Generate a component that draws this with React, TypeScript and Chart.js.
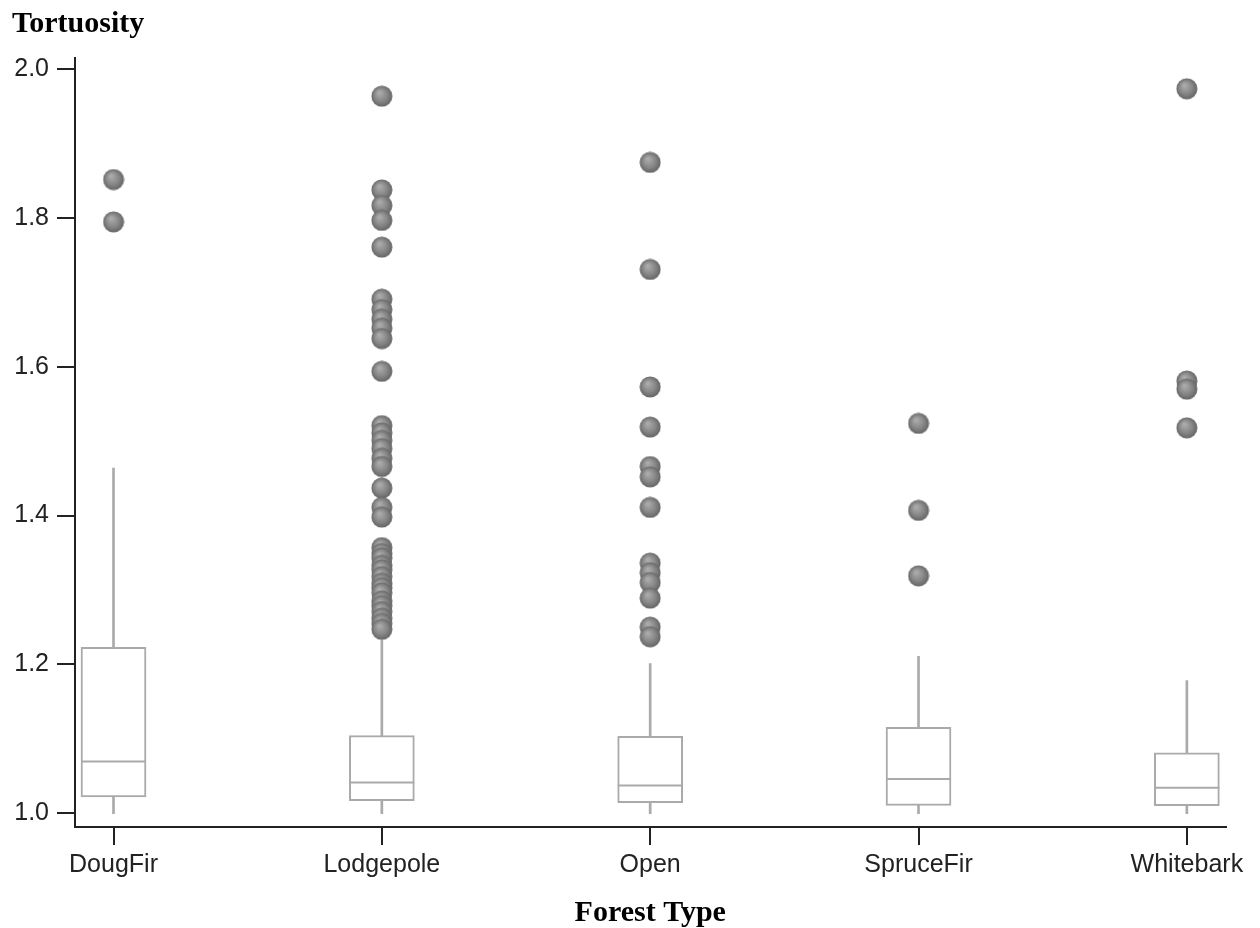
import React, { useEffect, useRef } from "react";
import { Chart, registerables } from "chart.js";

Chart.register(...registerables);

// ---------- data ----------
const categories = ["DougFir", "Lodgepole", "Open", "SpruceFir", "Whitebark"];
const whiskerLow = [0.999, 0.999, 0.999, 0.999, 0.999];
const q1 = [1.0215, 1.0166, 1.014, 1.0102, 1.01];
const median = [1.0694, 1.041, 1.037, 1.0457, 1.034];
const q3 = [1.2227, 1.104, 1.103, 1.1151, 1.0808];
const whiskerHigh = [1.464, 1.233, 1.201, 1.2106, 1.178];

const outliersDougFir = [1.852, 1.795];
const outliersLodgepole = [
  1.964, 1.838, 1.817, 1.797, 1.761, 1.691, 1.677, 1.664, 1.652, 1.638, 1.594,
  1.521, 1.511, 1.501, 1.49, 1.477, 1.466, 1.437, 1.411, 1.398, 1.357, 1.349,
  1.343, 1.333, 1.327, 1.318, 1.309, 1.303, 1.296, 1.285, 1.279, 1.271, 1.262,
  1.255, 1.247,
];
const outliersOpen = [
  1.875, 1.731, 1.573, 1.519, 1.466, 1.452, 1.411, 1.336, 1.323, 1.31, 1.289,
  1.25, 1.237,
];
const outliersSpruceFir = [1.524, 1.407, 1.319];
const outliersWhitebark = [1.974, 1.581, 1.57, 1.518];
const outliers = [
  outliersDougFir,
  outliersLodgepole,
  outliersOpen,
  outliersSpruceFir,
  outliersWhitebark,
];

const yTicks = [1.0, 1.2, 1.4, 1.6, 1.8, 2.0];
const yTitle = "Tortuosity";
const xTitle = "Forest Type";

// ---------- styles ----------
const BOX_COLOR = "#aaaaaa";
const AXIS_COLOR = "#222222";
const SANS = "'Liberation Sans', Arial, sans-serif";
const SERIF = "'Liberation Serif', 'Times New Roman', serif";

function makeSphere(): HTMLCanvasElement {
  const s = 22;
  const c = document.createElement("canvas");
  c.width = s;
  c.height = s;
  const ctx = c.getContext("2d")!;
  const g = ctx.createRadialGradient(8.5, 7.5, 1, 11, 11, 11);
  g.addColorStop(0, "#ababab");
  g.addColorStop(0.55, "#878787");
  g.addColorStop(1, "#626262");
  ctx.beginPath();
  ctx.arc(11, 11, 10.5, 0, Math.PI * 2);
  ctx.fillStyle = g;
  ctx.fill();
  return c;
}

export default function App() {
  const ref = useRef<HTMLCanvasElement | null>(null);

  useEffect(() => {
    document.body.style.margin = "0";
    document.body.style.overflow = "hidden";
    const canvas = ref.current;
    if (!canvas) return;
    const sphere = makeSphere();

    const boxData = categories.map((_, i) => ({ x: i, y: [q1[i], q3[i]] }));
    const upperWhisker = categories.map((_, i) => ({ x: i, y: [q3[i], whiskerHigh[i]] }));
    const lowerWhisker = categories.map((_, i) => ({ x: i, y: [whiskerLow[i], q1[i]] }));
    const medianData = categories.map((_, i) => ({ x: i, y: median[i] }));
    const outlierData: { x: number; y: number }[] = [];
    outliers.forEach((arr, i) => arr.forEach((v) => outlierData.push({ x: i, y: v })));

    const chart = new Chart(canvas, {
      type: "bar",
      data: {
        datasets: [
          {
            type: "scatter",
            data: outlierData,
            pointStyle: sphere as any,
            pointRadius: 10,
            order: 0,
          } as any,
          {
            type: "scatter",
            data: medianData,
            pointStyle: "line",
            pointRadius: 32.5,
            pointBorderWidth: 2,
            pointBorderColor: BOX_COLOR,
            pointBackgroundColor: BOX_COLOR,
            order: 1,
          } as any,
          {
            type: "bar",
            data: upperWhisker as any,
            backgroundColor: BOX_COLOR,
            borderWidth: 0,
            barThickness: 2,
            grouped: false,
            order: 2,
          } as any,
          {
            type: "bar",
            data: lowerWhisker as any,
            backgroundColor: BOX_COLOR,
            borderWidth: 0,
            barThickness: 2,
            grouped: false,
            order: 2,
          } as any,
          {
            type: "bar",
            data: boxData as any,
            backgroundColor: "#ffffff",
            borderColor: BOX_COLOR,
            borderWidth: 2,
            borderSkipped: false,
            barThickness: 65,
            grouped: false,
            order: 3,
          } as any,
        ],
      },
      options: {
        animation: false,
        responsive: false,
        events: [],
        layout: { padding: { left: 12, right: 32, top: 0, bottom: 0 } },
        plugins: {
          legend: { display: false },
          tooltip: { enabled: false },
          title: {
            display: true,
            text: yTitle,
            align: "start",
            color: "#000000",
            font: { family: SERIF, size: 30, weight: "bold" },
            padding: { top: 6, bottom: 16.3 },
          },
        },
        scales: {
          x: {
            type: "linear",
            offset: false,
            min: -0.1435,
            max: 4.144,
            afterBuildTicks: (axis: any) => {
              axis.ticks = categories.map((_, i) => ({ value: i }));
            },
            afterFit: (axis: any) => {
              axis.height = 101;
            },
            ticks: {
              callback: (v: any) => categories[Number(v)] ?? "",
              color: "#222222",
              font: { family: SANS, size: 25 },
              padding: 5,
              autoSkip: false,
              maxRotation: 0,
            },
            grid: {
              display: true,
              offset: false,
              drawOnChartArea: false,
              drawTicks: true,
              tickLength: 18,
              color: AXIS_COLOR,
              lineWidth: 2,
            },
            border: { display: true, color: AXIS_COLOR, width: 2 },
            title: {
              display: true,
              text: xTitle,
              color: "#000000",
              font: { family: SERIF, size: 30, weight: "bold" },
              padding: { top: 0, bottom: -3 },
            },
          },
          y: {
            type: "linear",
            min: 0.9812,
            max: 2.015,
            afterBuildTicks: (axis: any) => {
              axis.ticks = yTicks.map((v) => ({ value: v }));
            },
            afterFit: (axis: any) => {
              axis.width = 63;
            },
            ticks: {
              callback: (v: any) => Number(v).toFixed(1),
              color: "#222222",
              font: { family: SANS, size: 25 },
              padding: 8,
            },
            grid: {
              display: true,
              drawOnChartArea: false,
              drawTicks: true,
              tickLength: 18,
              color: AXIS_COLOR,
              lineWidth: 2,
            },
            border: { display: true, color: AXIS_COLOR, width: 2 },
          },
        },
      } as any,
    });

    return () => chart.destroy();
  }, []);

  return (
    <div style={{ width: 1260, height: 928 }}>
      <canvas ref={ref} width={1260} height={928} style={{ display: "block" }} />
    </div>
  );
}
